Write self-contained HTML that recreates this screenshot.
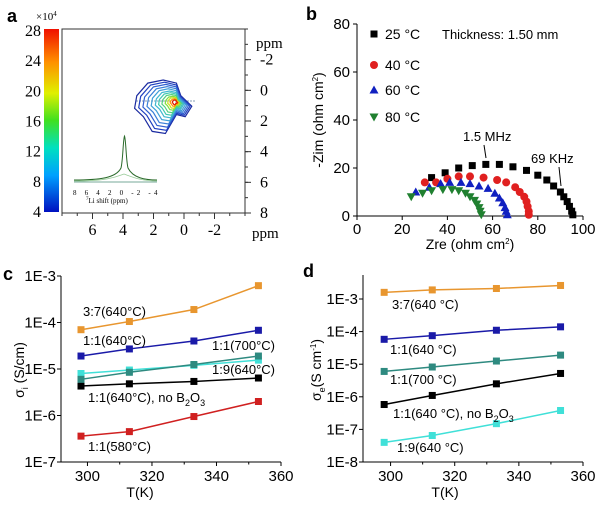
<!DOCTYPE html>
<html><head><meta charset="utf-8"><style>
body{margin:0;background:#fff}
svg{display:block;font-family:"Liberation Sans",sans-serif}
.serif{font-family:"Liberation Serif",serif}
</style></head><body>
<svg id="fig" width="600" height="510" viewBox="0 0 600 510" xmlns="http://www.w3.org/2000/svg">
<defs>
<linearGradient id="cb" x1="0" y1="1" x2="0" y2="0">
<stop offset="0" stop-color="#0010c0"/><stop offset="0.2" stop-color="#00a0ff"/><stop offset="0.35" stop-color="#00e0c0"/><stop offset="0.5" stop-color="#40e020"/><stop offset="0.65" stop-color="#e0f000"/><stop offset="0.82" stop-color="#ff9000"/><stop offset="1" stop-color="#f01000"/>
</linearGradient>
</defs>
<text x="7" y="22" font-size="18" font-weight="bold">a</text>
<text x="306" y="20" font-size="18" font-weight="bold">b</text>
<text x="3" y="280" font-size="18" font-weight="bold">c</text>
<text x="303" y="277" font-size="18" font-weight="bold">d</text>

<g id="pa" class="serif">
<text x="36" y="20" font-size="11">×10<tspan font-size="7" dy="-4">4</tspan></text>
<rect x="44" y="29" width="15" height="183" fill="url(#cb)"/>
<rect x="62" y="29" width="183" height="184" fill="none" stroke="#333" stroke-width="1"/>
<text x="256" y="48" font-size="15">ppm</text>
<text x="252" y="238" font-size="15">ppm</text>
<line x1="136" y1="101" x2="196" y2="101" stroke="#6080a0" stroke-width="0.8" stroke-dasharray="2,1"/>
<g id="contours"></g>
<g>
<line x1="74" y1="182" x2="157" y2="182" stroke="#7a9" stroke-width="1"/>
<path d="M74,180 C100,180 116,178 121,168 C123,160 123,140 124.5,136 C126,140 126,160 128,168 C133,178 145,180 157,180" fill="none" stroke="#2a6a2a" stroke-width="1"/>
<path d="M74,181 C110,181 118,176 124,174 C130,176 140,181 157,181" fill="none" stroke="#9c9" stroke-width="0.8"/>
<text x="73" y="195" font-size="7" letter-spacing="3.2">8 6 4 2 0 -2 -4</text>
<text x="86" y="203" font-size="7"><tspan font-size="5" dy="-3">7</tspan><tspan dy="3">Li shift (ppm)</tspan></text>
</g>
</g>

<g id="pb">
<text x="442" y="39" font-size="13">Thickness: 1.50 mm</text>
<text x="463" y="141" font-size="13">1.5 MHz</text>
<text x="531" y="163" font-size="13">69 KHz</text>
<line x1="484" y1="145" x2="486" y2="158" stroke="#000" stroke-width="1"/>
<line x1="559" y1="167" x2="561" y2="186" stroke="#000" stroke-width="1"/>
<text x="470" y="249" font-size="14" text-anchor="middle">Zre (ohm cm<tspan font-size="8" dy="-5">2</tspan><tspan dy="5">)</tspan></text>
<text transform="translate(323,120) rotate(-90)" font-size="14" text-anchor="middle">-Zim (ohm cm<tspan font-size="8" dy="-5">2</tspan><tspan dy="5">)</tspan></text>
</g>

<g id="pc">
<text x="140" y="497" font-size="14" text-anchor="middle">T(K)</text>
<text transform="translate(24,370) rotate(-90)" font-size="14" text-anchor="middle">σ<tspan font-size="9" dy="4">i</tspan><tspan dy="-4"> (S/cm)</tspan></text>
</g>

<g id="pd">
<text x="445" y="497" font-size="14" text-anchor="middle">T(K)</text>
<text transform="translate(321,370) rotate(-90)" font-size="14" text-anchor="middle">σ<tspan font-size="9" dy="4">e</tspan><tspan dy="-4">(S cm</tspan><tspan font-size="8" dy="-5">-1</tspan><tspan dy="5">)</tspan></text>
</g>
</svg>
<script>
const bTempLabels = ["25 °C","40 °C","60 °C","80 °C"];
const bZre25 = [33,39,45,51,57,63,69,75,80,84,87,90,91.5,93,94,95,95.5];
const bZim25 = [16,18,20,21,21.5,21.5,20.5,19,17,15,12.5,10,8,6,4,2,0.5];
const bZre40 = [30,35,40,45,50,56,62,66,70,72,74,75,75.5,76,76];
const bZim40 = [14,14,15.5,16.5,16.5,16,15,14,12,10,8,6,4,2,0.5];
const bZre60 = [26,32,37,41,46,50,54,58,61,63,64.5,65.5,66,66.5];
const bZim60 = [10,12,13.5,14,14,13.5,12.5,11.5,9.5,7.5,5.5,3.5,2,0.5];
const bZre80 = [24,29,33,38,42,45,48,50,52,53,54,54.5,55];
const bZim80 = [8,9.5,10.5,11,11,10.5,9.5,8,6.5,5,3.5,2,0.5];
const bXTicks = [0,20,40,60,80,100];
const bYTicks = [0,20,40,60,80];

const temps = [298,313,333,353];
const cSeriesNames = ["3:7(640°C)","1:1(640°C)","1:1(700°C)","1:9(640°C)","1:1(640°C), no B2O3","1:1(580°C)"];
const c37 = [7e-5,1.05e-4,1.9e-4,6.2e-4];
const c11_640 = [1.9e-5,2.7e-5,4e-5,6.8e-5];
const c11_700 = [6e-6,8.5e-6,1.25e-5,1.9e-5];
const c19 = [8e-6,9.5e-6,1.2e-5,1.55e-5];
const c11_noB = [4.3e-6,4.8e-6,5.4e-6,6.4e-6];
const c11_580 = [3.6e-7,4.5e-7,9.5e-7,2e-6];
const cYTicks = ["1E-3","1E-4","1E-5","1E-6","1E-7"];

const dSeriesNames = ["3:7(640 °C)","1:1(640 °C)","1:1(700 °C)","1:1(640 °C), no B2O3","1:9(640 °C)"];
const d37 = [1.6e-3,1.9e-3,2.1e-3,2.6e-3];
const d11_640 = [5.8e-5,7.5e-5,1.1e-4,1.4e-4];
const d11_700 = [6e-6,8.2e-6,1.25e-5,1.9e-5];
const d11_noB = [5.8e-7,1.1e-6,2.5e-6,5.2e-6];
const d19 = [4e-8,6.5e-8,1.5e-7,3.8e-7];
const dYTicks = ["1E-3","1E-4","1E-5","1E-6","1E-7","1E-8"];
const xTicksT = [300,320,340,360];
const aXTicks = [6,4,2,0,-2];
const aYTicks = [-2,0,2,4,6,8];
const aCbTicks = [28,24,20,16,12,8,4];

const NS="http://www.w3.org/2000/svg";
function mk(tag,attrs,parent){const e=document.createElementNS(NS,tag);for(const k in attrs)e.setAttribute(k,attrs[k]);parent.appendChild(e);return e;}
function label(parent,x,y,txt,anchor,size,cls){const t=mk('text',{x:x,y:y,'font-size':size,'text-anchor':anchor},parent);if(cls)t.setAttribute('class',cls);t.textContent=txt;return t;}

const pa=document.getElementById('pa');
const axA=v=>62+(8-v)*183/12, ayA=v=>29+(v+4)*184/12, cbY=v=>212-(v-4)*181/24;
aXTicks.forEach(v=>{
  const l=mk('line',{x1:axA(v),x2:axA(v),y1:213,y2:219,stroke:'#333'},pa);
  
  
  const t=label(pa,axA(v),235,String(v),'middle',16);
  
  
});
for(let v=-4;v<=8;v+=1){const l=mk('line',{x1:axA(v),x2:axA(v),y1:213,y2:216,stroke:'#333'},pa);
  
  
  const m=mk('line',{x1:245,x2:248,y1:ayA(v),y2:ayA(v),stroke:'#333'},pa);
  
  }
aYTicks.forEach(v=>{
  const l=mk('line',{x1:245,x2:251,y1:ayA(v),y2:ayA(v),stroke:'#333'},pa);
  
  
  const t=label(pa,260,ayA(v)+5,String(v),'start',16);
  
  
});
aCbTicks.forEach(v=>{
  const t=label(pa,41,cbY(v)+5,String(v),'end',16);
  
  
});
const cont=document.getElementById('contours');
const cCols=['#1a2aa0','#2040c0','#3060d0','#3a80d8','#40a0d8','#40b8d0','#40c8b0','#50d080','#80e040','#d0e020','#ff9000','#e02000'];
const cScale=[1,0.9,0.8,0.7,0.6,0.5,0.42,0.34,0.26,0.2,0.14,0.09];
cScale.forEach((s,i)=>{
  const cx=172, cy=102;
  const pts=[[-32,-6],[-22,-18],[-8,-21],[4,-18],[8,-6],[18,4],[12,14],[4,12],[-6,30],[-18,28],[-26,14],[-34,6]];
  const d='M'+pts.map(p=>(cx+p[0]*s*1.1+(1-s)*4).toFixed(1)+','+(cy+p[1]*s*1.05).toFixed(1)).join('L')+'Z';
  const p=mk('path',{d:d,fill:'none',stroke:cCols[i],'stroke-width':1.2},cont);
  
  
});

const pb=document.getElementById('pb');
const bx=v=>357+v*2.26, by=v=>216-v*2.4;
mk('line',{x1:357,y1:24,x2:357,y2:216,stroke:'#000'},pb);
mk('line',{x1:357,y1:216,x2:583,y2:216,stroke:'#000'},pb);
bXTicks.forEach(v=>{
  const l=mk('line',{x1:bx(v),x2:bx(v),y1:216,y2:220,stroke:'#000'},pb);
  
  
  const t=label(pb,bx(v),234,String(v),'middle',15);
  
  
});
bYTicks.forEach(v=>{
  const l=mk('line',{x1:353,x2:357,y1:by(v),y2:by(v),stroke:'#000'},pb);
  
  
  const t=label(pb,350,by(v)+5,String(v),'end',15);
  
  
});
function marker(parent,shape,x,y,col){
  let e;
  if(shape==='sq') e=mk('rect',{x:x-3.5,y:y-3.5,width:7,height:7,fill:col},parent);
  else if(shape==='ci') e=mk('circle',{cx:x,cy:y,r:4,fill:col},parent);
  else if(shape==='up') e=mk('polygon',{points:`${x},${y-4.5} ${x+4.5},${y+3.5} ${x-4.5},${y+3.5}`,fill:col},parent);
  else e=mk('polygon',{points:`${x},${y+4.5} ${x+4.5},${y-3.5} ${x-4.5},${y-3.5}`,fill:col},parent);
  return e;
}
const bSeries=[[bZre25,bZim25,'sq','#000'],[bZre40,bZim40,'ci','#e02020'],[bZre60,bZim60,'up','#1020c0'],[bZre80,bZim80,'dn','#208030']];
bSeries.forEach((s,k)=>{
  s[0].forEach((x,i)=>{
    const m=marker(pb,s[2],bx(x),by(s[1][i]),s[3]);
    
    
  });
  const ly=[34,65,90,117][k];
  const lm=marker(pb,s[2],374,ly,s[3]);
  
  
  const lt=label(pb,385,ly+5,bTempLabels[k],'start',14);
  
  
});

function logPanel(g,x0,x1,yTopVal,yBotVal,yTop,yBot,tmin,series,cols,ticks,axisTop){
  const tx=v=>x0+(v-tmin)*(x1-x0)/(360-tmin);
  const ly=v=>yBot-(Math.log10(v)-Math.log10(yBotVal))*(yBot-yTop)/(Math.log10(yTopVal)-Math.log10(yBotVal));
  mk('line',{x1:x0,y1:axisTop,x2:x0,y2:yBot,stroke:'#000'},g);
  mk('line',{x1:x0,y1:yBot,x2:x1,y2:yBot,stroke:'#000'},g);
  xTicksT.forEach(v=>{
    const l=mk('line',{x1:tx(v),x2:tx(v),y1:yBot,y2:yBot+4,stroke:'#000'},g);
    
    
    const t=label(g,tx(v),yBot+19,String(v),'middle',15);
    
    
  });
  [310,330,350].forEach(v=>{const l=mk('line',{x1:tx(v),x2:tx(v),y1:yBot,y2:yBot+2.5,stroke:'#000'},g);
    
    });
  ticks.forEach(s=>{
    const v=parseFloat(s);
    const l=mk('line',{x1:x0-4,x2:x0,y1:ly(v),y2:ly(v),stroke:'#000'},g);
    
    
    const t=label(g,x0-5,ly(v)+5,s,'end',15);
    
    
  });
  series.forEach((s,k)=>{
    const pl=mk('polyline',{points:s.map((v,i)=>tx(temps[i])+','+ly(v)).join(' '),fill:'none',stroke:cols[k],'stroke-width':1.5},g);
    
    
    s.forEach((v,i)=>{
      const r=mk('rect',{x:tx(temps[i])-3.5,y:ly(v)-3.5,width:7,height:7,fill:cols[k]},g);
      
      
    });
  });
}
const pc=document.getElementById('pc');
logPanel(pc,61,281,1e-3,1e-7,276,462,291.8,[c11_580,c11_noB,c19,c11_700,c11_640,c37],['#d02020','#000','#40e0d8','#2e8a80','#1a1aa8','#e8962f'],cYTicks,276);
const cLab=[[83,316,cSeriesNames[0]],[83,345,cSeriesNames[1]],[212,350,cSeriesNames[2]],[212,374,cSeriesNames[3]],[88,451,cSeriesNames[5]]];
cLab.forEach(a=>{const t=label(pc,a[0],a[1],a[2],'start',13);
  
  });
const cnb=mk('text',{x:88,y:402,'font-size':13},pc);


cnb.innerHTML='1:1(640°C), no B<tspan font-size="9" dy="4">2</tspan><tspan dy="-4">O</tspan><tspan font-size="9" dy="4">3</tspan>';

const pd=document.getElementById('pd');
logPanel(pd,363,583,1e-3,1e-8,299,462,291.4,[d19,d11_noB,d11_700,d11_640,d37],['#40e0d8','#000','#2e8a80','#1a1aa8','#e8962f'],dYTicks,275);
const dLab=[[392,309,dSeriesNames[0]],[390,354,dSeriesNames[1]],[390,384,dSeriesNames[2]],[397,452,dSeriesNames[4]]];
dLab.forEach(a=>{const t=label(pd,a[0],a[1],a[2],'start',13);
  
  });
const dnb=mk('text',{x:393,y:418,'font-size':13},pd);


dnb.innerHTML='1:1(640 °C), no B<tspan font-size="9" dy="4">2</tspan><tspan dy="-4">O</tspan><tspan font-size="9" dy="4">3</tspan>';
</script>
</body></html>
